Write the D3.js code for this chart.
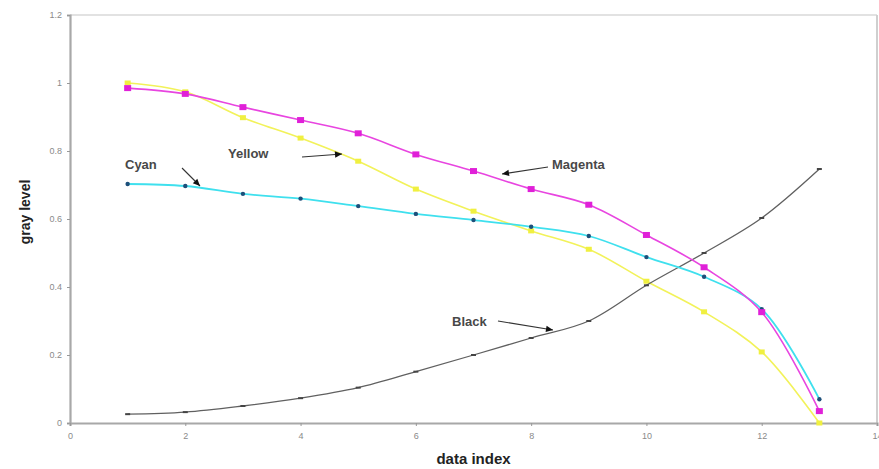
<!DOCTYPE html>
<html><head><meta charset="utf-8">
<script src="https://cdn.jsdelivr.net/npm/d3@7"></script>
<style>html,body{margin:0;padding:0;background:#fff;}svg{display:block;}</style>
</head><body><svg id="c" width="879" height="469"></svg>
<script>
const dataIndex = [1,2,3,4,5,6,7,8,9,10,11,12,13];
const magenta = [0.985,0.968,0.929,0.891,0.852,0.79,0.741,0.688,0.642,0.553,0.458,0.326,0.035];
const yellow  = [1.0,0.974,0.898,0.838,0.77,0.688,0.623,0.565,0.511,0.417,0.327,0.209,0.0];
const cyan    = [0.703,0.697,0.674,0.66,0.638,0.615,0.597,0.577,0.55,0.488,0.43,0.335,0.07];
const black   = [0.026,0.032,0.05,0.073,0.104,0.151,0.2,0.25,0.3,0.405,0.5,0.603,0.747];
const xTicks = [0,2,4,6,8,10,12,14];
const yTicks = [0,0.2,0.4,0.6,0.8,1,1.2];

const svg = d3.select("#c");
const L=70,R=877,T=15,B=423;
const x = d3.scaleLinear().domain([0,14]).range([L,R]);
const y = d3.scaleLinear().domain([0,1.2]).range([B,T]);

// frame top/right
svg.append("line").attr("x1",L).attr("x2",R).attr("y1",T).attr("y2",T).attr("stroke","#d8d8d8").attr("stroke-width",1.5);
svg.append("line").attr("x1",R).attr("x2",R).attr("y1",T).attr("y2",B).attr("stroke","#cfcfcf").attr("stroke-width",2);

// axes
const yAxis = svg.append("g").attr("transform",`translate(${L},0)`)
  .call(d3.axisLeft(y).tickValues(yTicks).tickSize(3).tickFormat(d=>String(d)));
const xAxis = svg.append("g").attr("transform",`translate(0,${B})`)
  .call(d3.axisBottom(x).tickValues(xTicks).tickSize(3).tickFormat(d=>String(d)));
[yAxis,xAxis].forEach(g=>{
  g.select(".domain").attr("stroke","#a8a8a8").attr("stroke-width",2.2);
  g.selectAll(".tick line").attr("stroke","#999");
  g.selectAll(".tick text").attr("fill","#8a8a8a").attr("font-family","Liberation Sans, Arial, sans-serif").attr("font-size",9);
});
yAxis.selectAll(".tick text").attr("x",-8);
xAxis.selectAll(".tick text").attr("y",10);

const line = d3.line().x((d,i)=>x(dataIndex[i])).y(d=>y(d)).curve(d3.curveCatmullRom.alpha(0.5));

function series(vals,color,width,marker,mcolor,msize){
  svg.append("path").attr("d",line(vals)).attr("fill","none").attr("stroke",color).attr("stroke-width",width);
  const g = svg.append("g");
  vals.forEach((v,i)=>{
    const cx=x(dataIndex[i]), cy=y(v);
    if(marker==="square"){
      g.append("rect").attr("x",cx-msize/2).attr("y",cy-msize/2+0.5).attr("width",msize).attr("height",msize-1).attr("fill",mcolor);
    } else if(marker==="circle"){
      g.append("circle").attr("cx",cx).attr("cy",cy).attr("r",msize).attr("fill",mcolor);
    } else {
      g.append("rect").attr("x",cx-2.5).attr("y",cy-1).attr("width",5).attr("height",2).attr("fill",mcolor);
    }
  });
}
series(yellow,"#f2f25a",1.6,"square","#f0f040",6);
series(black,"#606060",1.3,"dash","#444");
series(cyan,"#3fe0ee",1.8,"circle","#1d4f7a",2.2);
series(magenta,"#e845e0",1.6,"square","#e020d8",7);

// annotations
const lab = {font:"Liberation Sans, Arial, sans-serif", size:13, fill:"#484848"};
function label(t,tx,ty){
  svg.append("text").attr("x",tx).attr("y",ty).text(t).attr("font-family",lab.font)
    .attr("font-size",lab.size).attr("font-weight","bold").attr("fill",lab.fill);
}
function arrow(x1,y1,x2,y2){
  svg.append("line").attr("x1",x1).attr("y1",y1).attr("x2",x2).attr("y2",y2).attr("stroke","#333").attr("stroke-width",1.1);
  const a=Math.atan2(y2-y1,x2-x1), s=7, w=3.2;
  const p=[[x2,y2],[x2-s*Math.cos(a)+w*Math.sin(a), y2-s*Math.sin(a)-w*Math.cos(a)],[x2-s*Math.cos(a)-w*Math.sin(a), y2-s*Math.sin(a)+w*Math.cos(a)]];
  svg.append("polygon").attr("points",p.map(q=>q.join(",")).join(" ")).attr("fill","#111");
}
label("Cyan",125,169); arrow(182,168,200,186);
label("Yellow",228,158); arrow(302,157,342,154);
label("Magenta",552,169); arrow(548,167,502,174);
label("Black",452,326); arrow(498,321,553,330);

// axis titles
svg.append("text").attr("x",(L+R)/2).attr("y",464).attr("text-anchor","middle").text("data index")
  .attr("font-family","Liberation Sans, Arial, sans-serif").attr("font-size",15).attr("font-weight","bold").attr("fill","#222");
svg.append("text").attr("transform","translate(30,212) rotate(-90)").attr("text-anchor","middle").text("gray level")
  .attr("font-family","Liberation Sans, Arial, sans-serif").attr("font-size",14).attr("font-weight","bold").attr("fill","#222");
</script></body></html>
